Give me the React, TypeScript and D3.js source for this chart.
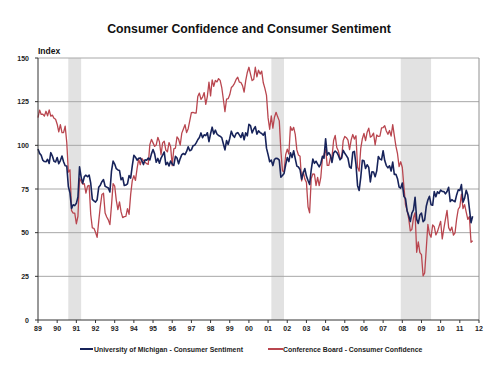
import React from "react";
import * as d3 from "d3";

const startYear = 1989;
// Monthly values, Jan 1989 onward
const michigan: number[] = [
  97.9, 95.4, 94.3, 91.5, 90.7, 90.6, 92.0, 89.6, 95.8, 93.9, 90.9, 90.5,
  93.0, 89.5, 91.3, 93.9, 90.6, 88.3, 88.2, 76.4, 72.8, 63.9, 66.0, 65.5,
  66.8, 70.4, 87.7, 81.8, 78.3, 82.1, 82.9, 82.0, 83.0, 78.3, 69.1, 68.2,
  67.5, 68.8, 76.0, 77.2, 79.2, 80.4, 76.6, 76.1, 75.6, 73.3, 85.3, 91.0,
  89.3, 86.6, 85.9, 85.6, 80.3, 81.5, 77.0, 77.3, 77.9, 82.7, 81.2, 88.2,
  94.3, 93.2, 91.5, 92.6, 92.8, 91.2, 89.0, 91.7, 91.5, 92.7, 91.6, 95.1,
  97.6, 95.1, 90.3, 92.5, 89.8, 92.7, 94.4, 96.2, 88.9, 90.2, 88.2, 91.0,
  89.3, 88.5, 93.7, 92.7, 89.4, 92.4, 94.7, 95.3, 94.7, 96.5, 99.2, 96.9,
  97.4, 99.7, 100.0, 101.4, 103.2, 104.5, 107.1, 104.4, 106.0, 105.6, 107.2, 102.1,
  106.6, 110.4, 106.5, 108.7, 106.5, 105.6, 105.2, 104.4, 100.9, 97.4, 102.7, 100.5,
  103.9, 108.1, 105.7, 104.6, 106.8, 107.3, 106.0, 104.5, 107.2, 103.2, 107.2, 105.4,
  112.0, 111.3, 107.1, 109.2, 110.7, 106.4, 108.3, 107.3, 106.8, 105.8, 107.6, 98.4,
  94.7, 90.6, 91.5, 88.4, 92.0, 92.6, 92.4, 91.5, 81.8, 82.7, 83.9, 88.8,
  93.0, 90.7, 95.7, 93.0, 96.9, 92.4, 88.1, 87.6, 86.1, 80.6, 84.2, 86.7,
  82.4, 79.9, 77.6, 86.0, 92.1, 89.7, 90.9, 89.3, 87.7, 89.6, 93.7, 92.6,
  103.8, 94.4, 95.8, 94.2, 90.2, 95.6, 96.7, 95.9, 94.2, 91.7, 92.8, 97.1,
  95.5, 94.1, 92.6, 87.7, 86.9, 96.0, 96.5, 89.1, 76.9, 74.2, 81.6, 91.5,
  91.2, 86.7, 88.9, 87.4, 79.1, 84.9, 84.7, 82.0, 85.4, 93.6, 92.1, 91.7,
  96.9, 91.3, 88.4, 87.1, 88.3, 85.3, 90.4, 83.4, 83.4, 80.9, 76.1, 75.5,
  78.4, 70.8, 69.5, 62.6, 59.8, 56.4, 61.2, 63.0, 70.3, 57.6, 55.3, 60.1,
  61.2, 56.3, 57.3, 65.1, 68.7, 70.8, 66.0, 65.7, 73.5, 70.6, 73.4, 72.5,
  74.4, 73.6, 73.6, 72.2, 73.6, 76.0, 67.8, 68.9, 68.2, 67.7, 71.6, 74.5,
  74.2, 77.5, 67.5, 69.8, 74.3, 71.5, 63.7, 55.7, 59.4,
];
const conference: number[] = [
  115.8, 120.2, 117.7, 117.9, 116.7, 119.5, 116.9, 120.3, 116.7, 117.3, 115.5, 114.9,
  112.1, 107.7, 111.8, 107.3, 107.3, 111.0, 101.7, 84.7, 86.0, 62.6, 61.2, 61.2,
  55.1, 59.4, 81.1, 79.4, 77.8, 78.0, 72.7, 76.7, 77.1, 60.4, 52.7, 52.5,
  50.2, 47.3, 56.5, 65.1, 71.9, 72.6, 61.2, 59.0, 57.3, 54.6, 65.6, 78.1,
  76.7, 68.5, 63.2, 67.6, 61.9, 58.6, 59.2, 59.3, 63.8, 60.5, 71.9, 79.8,
  82.6, 79.9, 86.7, 92.1, 88.9, 92.5, 91.3, 90.4, 89.5, 89.1, 100.4, 103.4,
  101.4, 99.4, 100.2, 104.6, 102.0, 94.6, 101.4, 102.4, 97.3, 96.3, 101.6, 99.2,
  88.4, 98.0, 98.4, 104.8, 103.5, 100.1, 107.0, 109.4, 111.8, 107.3, 109.5, 114.2,
  118.7, 118.9, 118.5, 118.5, 127.9, 129.9, 126.3, 127.6, 130.2, 123.4, 128.1, 136.2,
  128.3, 137.4, 133.8, 137.2, 136.3, 138.2, 137.2, 133.1, 126.4, 119.3, 126.4, 126.7,
  128.9, 133.1, 134.0, 135.5, 137.7, 139.0, 136.2, 136.0, 134.2, 130.5, 137.0, 141.7,
  144.7, 140.8, 137.1, 137.7, 144.7, 139.2, 143.0, 140.8, 142.5, 135.8, 132.6, 128.6,
  115.7, 109.2, 116.9, 109.9, 116.1, 118.9, 116.3, 114.0, 97.0, 85.3, 84.9, 94.6,
  97.8, 95.0, 110.7, 108.5, 110.3, 106.3, 97.4, 94.5, 93.7, 79.6, 84.9, 80.7,
  78.8, 64.8, 61.4, 81.0, 83.6, 83.5, 77.0, 81.7, 77.0, 81.7, 92.5, 94.8,
  97.7, 88.5, 88.5, 93.0, 93.1, 102.8, 105.7, 98.7, 96.7, 92.9, 92.6, 102.7,
  105.1, 104.4, 103.0, 97.5, 103.1, 106.2, 103.6, 105.5, 87.5, 85.2, 98.3, 103.8,
  106.8, 102.7, 107.5, 109.8, 104.7, 105.4, 107.0, 100.2, 105.9, 105.1, 105.3, 110.0,
  110.2, 111.2, 108.2, 106.3, 108.5, 105.3, 111.9, 105.6, 99.5, 95.2, 87.8, 90.6,
  87.3, 76.4, 65.9, 62.8, 58.1, 51.0, 51.9, 58.5, 61.4, 38.8, 44.7, 38.6,
  37.4, 25.3, 26.9, 40.8, 54.8, 49.3, 47.4, 54.5, 53.4, 48.7, 50.6, 53.6,
  56.5, 46.4, 52.3, 57.7, 62.7, 52.9, 51.0, 53.2, 48.6, 49.9, 57.8, 63.4,
  64.8, 72.0, 63.8, 66.0, 61.7, 57.6, 59.2, 44.5, 45.4,
];
const recessions: [number, number][] = [
  [1990.58, 1991.25],
  [2001.17, 2001.83],
  [2007.92, 2009.5],
];
const yTicks = [0, 25, 50, 75, 100, 125, 150];
const xTickYears = d3.range(1989, 2013);
const title = "Consumer Confidence and Consumer Sentiment";
const seriesNames = [
  "University of Michigan - Consumer Sentiment",
  "Conference Board - Consumer Confidence",
];

const W = 500, H = 375;
const L = 38, R = 479, T = 58, B = 320;
const NAVY = "#17235a";
const RED = "#b9464f";
const FONT = "Liberation Sans, Arial, sans-serif";

export default function App() {
  const x = d3.scaleLinear().domain([1989, 2012]).range([L, R]);
  const y = d3.scaleLinear().domain([0, 150]).range([B, T]);
  const line = d3
    .line<number>()
    .x((_, i) => x(startYear + i / 12))
    .y((d) => y(d));

  return (
    <svg width={W} height={H} style={{ position: "absolute", left: 0, top: 0, background: "#fff" }}>
      <rect x={0} y={0} width={W} height={H} fill="#fff" />
      <text x={249} y={33} textAnchor="middle" fontFamily={FONT} fontWeight="bold" fontSize={12.3} fill="#111">
        {title}
      </text>
      <text x={L} y={54} fontFamily={FONT} fontWeight="bold" fontSize={8.5} fill="#111">
        Index
      </text>
      {recessions.map(([a, b], i) => (
        <rect key={i} x={x(a)} y={T} width={x(b) - x(a)} height={B - T} fill="#e2e2e2" />
      ))}
      {yTicks.filter((t) => t > 0).map((t) => (
        <line key={t} x1={L} x2={R} y1={y(t)} y2={y(t)} stroke="#a8a8a8" strokeWidth={1} />
      ))}
      <line x1={R} x2={R} y1={T} y2={B} stroke="#909090" strokeWidth={1} />
      {yTicks.map((t) => (
        <g key={t}>
          <line x1={L - 3} x2={L} y1={y(t)} y2={y(t)} stroke="#333" />
          <text x={L - 9} y={y(t) + 2.5} textAnchor="end" fontFamily={FONT} fontWeight="bold" fontSize={7} fill="#222">
            {t}
          </text>
        </g>
      ))}
      <path d={line(conference) ?? ""} fill="none" stroke={RED} strokeWidth={1.3} strokeLinejoin="round" />
      <path d={line(michigan) ?? ""} fill="none" stroke={NAVY} strokeWidth={1.6} strokeLinejoin="round" />
      <line x1={L} x2={L} y1={T} y2={B} stroke="#333" strokeWidth={1} />
      <line x1={L} x2={R} y1={B} y2={B} stroke="#333" strokeWidth={1} />
      {xTickYears.map((yr) => (
        <g key={yr}>
          <line x1={x(yr)} x2={x(yr)} y1={B} y2={B + 3} stroke="#333" />
          <text x={x(yr)} y={B + 11} textAnchor="middle" fontFamily={FONT} fontWeight="bold" fontSize={7} fill="#222">
            {String(yr % 100).padStart(2, "0")}
          </text>
        </g>
      ))}
      <line x1={80} x2={93} y1={349} y2={349} stroke={NAVY} strokeWidth={2} />
      <text x={94} y={351.5} fontFamily={FONT} fontWeight="bold" fontSize={6.9} fill="#222">
        {seriesNames[0]}
      </text>
      <line x1={268} x2={283} y1={349} y2={349} stroke={RED} strokeWidth={2} />
      <text x={283} y={351.5} fontFamily={FONT} fontWeight="bold" fontSize={6.9} fill="#222">
        {seriesNames[1]}
      </text>
    </svg>
  );
}
